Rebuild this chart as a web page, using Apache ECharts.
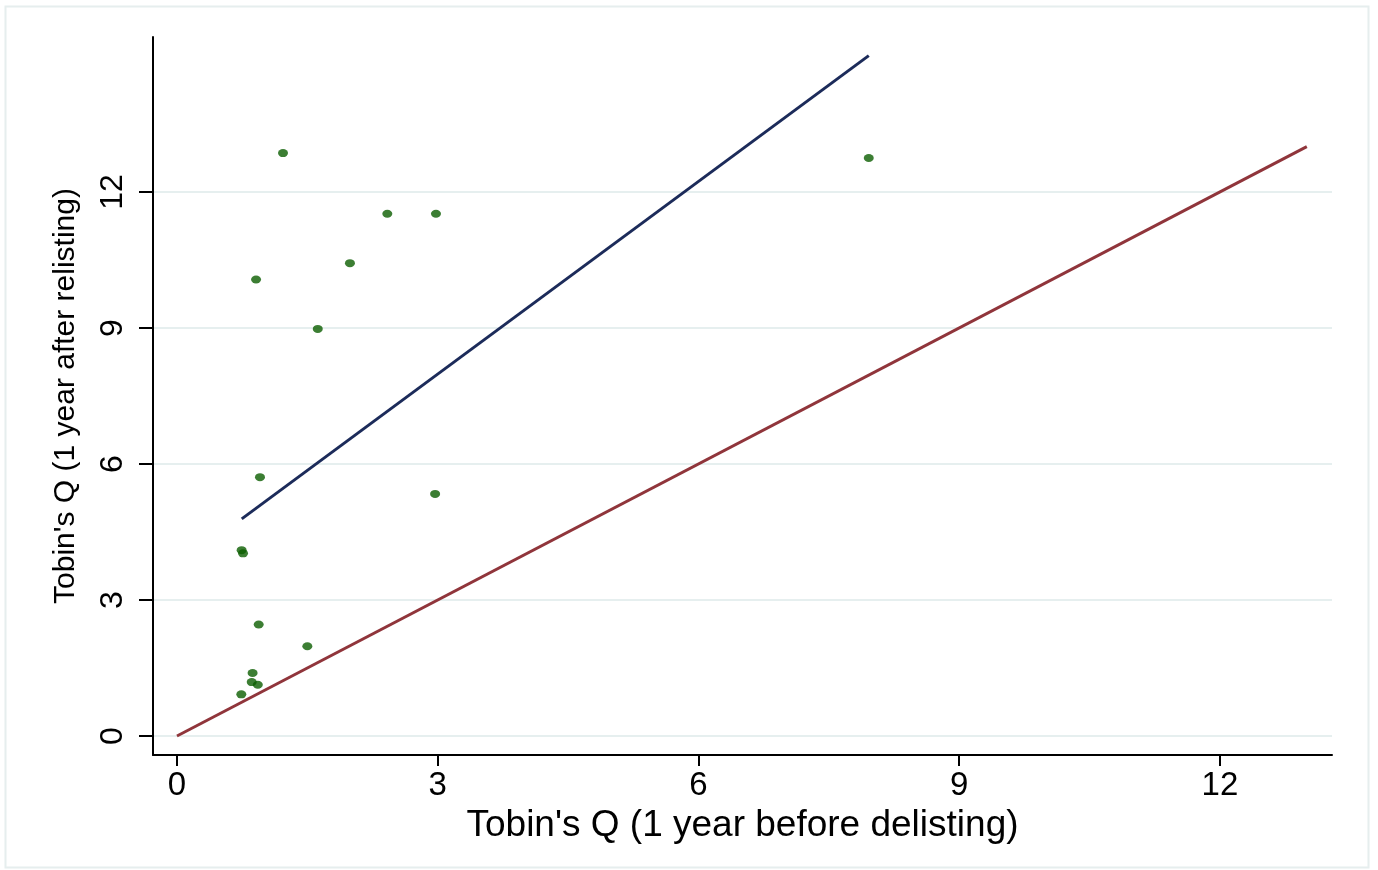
<!DOCTYPE html>
<html>
<head>
<meta charset="utf-8">
<script src="https://cdn.jsdelivr.net/npm/echarts@6/dist/echarts.min.js"></script>
<style>
html,body{margin:0;padding:0;background:#fff;}
#c{width:1378px;height:870px;}
</style>
</head>
<body>
<div id="c"></div>
<script>
// Scatter data: Tobin's Q before delisting (x) and after relisting (y)
const qBefore = [1.22, 7.96, 2.42, 2.98, 1.99, 0.91, 1.62, 0.955, 2.97, 0.744, 0.76, 0.94, 1.50, 0.87, 0.86, 0.93, 0.74];
const qAfter  = [12.86, 12.75, 11.52, 11.52, 10.43, 10.07, 8.98, 5.71, 5.34, 4.10, 4.03, 2.46, 1.98, 1.39, 1.19, 1.13, 0.92];
// Fitted line (navy) endpoints
const fitX = [0.745, 7.96];
const fitY = [4.79, 15.01];
// 45-degree reference line (maroon)
const refX = [0, 13];
const refY = [0, 13];
// Tick labels
const xTicks = [0, 3, 6, 9, 12];
const yTicks = [0, 3, 6, 9, 12];
const xTitle = "Tobin's Q (1 year before delisting)";
const yTitle = "Tobin's Q (1 year after relisting)";

const points = qBefore.map((x, i) => [x, qAfter[i]]);
const fitLine = fitX.map((x, i) => [x, fitY[i]]);
const refLine = refX.map((x, i) => [x, refY[i]]);

const FONT = "'Liberation Sans', Arial, Helvetica, sans-serif";
const chart = echarts.init(document.getElementById('c'), null, {renderer: 'canvas'});
chart.setOption({
  backgroundColor: '#ffffff',
  animation: false,
  graphic: [{
    type: 'rect',
    shape: {x: 5.5, y: 6.5, width: 1363, height: 861},
    style: {fill: 'none', stroke: '#e6eeee', lineWidth: 2},
    silent: true
  }],
  grid: {left: 153, top: 37, right: 46, bottom: 115},
  xAxis: {
    type: 'value',
    min: -0.276, max: 13.29,
    name: xTitle,
    nameLocation: 'middle',
    nameGap: 30,
    nameTextStyle: {fontFamily: FONT, fontSize: 37, color: '#000'},
    axisLine: {show: true, onZero: false, lineStyle: {color: '#000', width: 2}},
    axisTick: {show: true, length: 11, customValues: xTicks, lineStyle: {color: '#000', width: 2}},
    axisLabel: {customValues: xTicks, fontFamily: FONT, fontSize: 33, color: '#000', margin: 14},
    splitLine: {show: false}
  },
  yAxis: {
    type: 'value',
    min: -0.419, max: 15.42,
    name: yTitle,
    nameLocation: 'middle',
    nameGap: 72,
    nameTextStyle: {fontFamily: FONT, fontSize: 30, color: '#000'},
    axisLine: {show: true, onZero: false, lineStyle: {color: '#000', width: 2}},
    axisTick: {show: true, length: 14, customValues: yTicks, lineStyle: {color: '#000', width: 2}},
    axisLabel: {customValues: yTicks, rotate: 90, fontFamily: FONT, fontSize: 32, color: '#000', margin: 24},
    splitLine: {show: true, lineStyle: {color: '#e6efef', width: 2}}
  },
  series: [
    {
      type: 'scatter',
      data: points,
      symbol: 'circle',
      symbolSize: [10, 8],
      itemStyle: {color: '#0b5e00'},
      z: 3
    },
    {
      type: 'line',
      data: fitLine,
      showSymbol: false,
      symbol: 'none',
      lineStyle: {color: '#1c2b5a', width: 3},
      z: 2
    },
    {
      type: 'line',
      data: refLine,
      showSymbol: false,
      symbol: 'none',
      lineStyle: {color: '#90353b', width: 3},
      z: 2
    }
  ]
});
</script>
</body>
</html>
